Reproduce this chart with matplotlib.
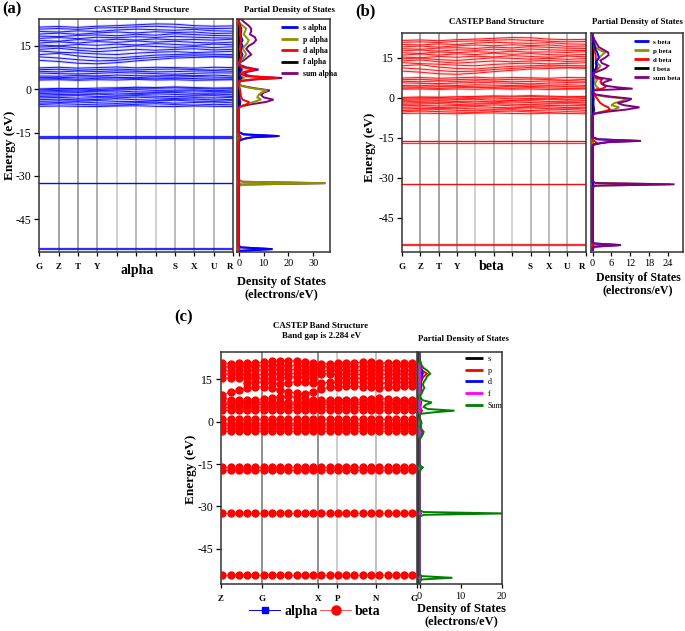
import numpy as np
import matplotlib.pyplot as plt
from matplotlib.lines import Line2D

plt.rcParams['font.family'] = ['Liberation Serif', 'DejaVu Serif']
plt.rcParams['axes.unicode_minus'] = False

nan = np.nan

# ---- k-paths ----
kpath_ab = ['G', 'Z', 'T', 'Y', '', '', '', 'S', 'X', 'U', 'R']
kpath_c = ['Z', 'G', 'X', 'P', 'N', 'G']
kpos_c = [-0.19, 4.77, 11.62, 13.92, 18.6, 23.6]   # in units of plotted k-points (panel c)

# ---- bands for panels a/b (11 k-points along G..R) ----
core_levels_ab = [-55.3, -55.0, -32.5, -32.3, -17.0, -16.4, -16.1]

valence_bands = [
    [-5.9, -5.8, -5.9, -6.0, -5.8, -5.7, -5.9, -6.0, -5.8, -5.9, -6.0],
    [-5.3, -5.0, -5.2, -5.4, -5.5, -5.2, -5.0, -5.3, -5.5, -5.2, -5.4],
    [-4.8, -4.6, -4.4, -4.7, -4.9, -4.6, -4.5, -4.8, -4.6, -4.4, -4.7],
    [-4.2, -4.0, -4.1, -3.9, -4.2, -4.3, -4.0, -3.8, -4.1, -4.2, -3.9],
    [-3.6, -3.4, -3.7, -3.5, -3.3, -3.6, -3.8, -3.5, -3.4, -3.7, -3.5],
    [-3.0, -2.8, -3.1, -2.9, -3.0, -2.7, -3.0, -3.2, -2.9, -3.0, -2.8],
    [-2.5, -2.3, -2.2, -2.5, -2.4, -2.2, -2.4, -2.6, -2.3, -2.2, -2.5],
    [-2.0, -1.8, -1.9, -1.7, -2.0, -1.9, -1.6, -1.8, -2.0, -1.7, -1.9],
    [-1.5, -1.3, -1.2, -1.4, -1.3, -1.5, -1.2, -1.1, -1.4, -1.3, -1.2],
    [-1.0, -0.8, -0.9, -0.7, -0.6, -0.9, -1.0, -0.7, -0.6, -0.8, -0.9],
    [-0.6, -0.4, -0.3, -0.5, -0.2, -0.1, -0.4, -0.3, -0.2, -0.5, -0.3],
    [-0.2, 0.0, 0.1, -0.1, 0.2, 0.4, 0.3, 0.5, 0.3, 0.1, 0.2],
    [0.1, 0.3, 0.2, 0.4, 0.5, 0.7, 0.6, 0.8, 0.6, 0.4, 0.5],
]

conduction_bands = [
    [3.2, 3.3, 3.1, 3.3, 3.2, 3.4, 3.2, 3.3, 3.1, 3.2, 3.3],
    [3.6, 3.7, 3.5, 3.8, 3.9, 3.7, 3.6, 3.8, 3.7, 3.5, 3.6],
    [4.1, 4.0, 4.2, 4.3, 4.1, 4.0, 4.3, 4.2, 4.4, 4.2, 4.1],
    [4.6, 4.5, 4.8, 4.6, 4.9, 4.7, 4.6, 4.8, 4.7, 4.9, 4.6],
    [5.6, 5.4, 5.3, 5.5, 5.8, 5.6, 5.4, 5.2, 5.5, 5.7, 5.6],
    [6.2, 6.0, 6.3, 6.1, 6.4, 6.2, 6.0, 6.1, 6.3, 6.4, 6.2],
    [6.8, 6.9, 6.6, 6.8, 7.0, 6.7, 6.9, 7.0, 6.8, 6.6, 6.9],
    [7.4, 7.6, 7.3, 7.5, 7.7, 7.4, 7.6, 7.5, 7.3, 7.6, 7.5],
]

upper_bands = [
    [10.0, 9.6, 9.0, 8.8, 9.2, 9.8, 10.3, 10.8, 11.0, 11.2, 11.0],
    [11.2, 10.8, 10.2, 9.8, 10.0, 10.6, 11.0, 11.4, 11.6, 11.4, 11.5],
    [12.0, 12.4, 11.5, 11.0, 10.8, 11.3, 11.8, 12.0, 12.2, 12.1, 12.0],
    [13.2, 12.8, 12.6, 12.2, 12.0, 12.5, 12.8, 13.0, 12.7, 12.9, 13.1],
    [13.8, 14.2, 13.5, 13.0, 13.4, 13.8, 13.5, 13.8, 14.0, 13.6, 13.8],
    [14.6, 14.9, 14.3, 14.0, 14.5, 15.0, 14.8, 14.5, 14.8, 14.4, 14.7],
    [15.3, 15.0, 15.5, 15.2, 15.6, 15.3, 15.8, 15.5, 15.2, 15.6, 15.4],
    [16.0, 16.4, 16.0, 16.5, 16.2, 16.7, 16.3, 16.6, 16.2, 16.0, 16.3],
    [16.9, 16.6, 17.2, 16.9, 17.3, 17.0, 17.4, 17.1, 17.2, 17.0, 17.3],
    [17.6, 17.9, 17.5, 18.0, 17.8, 18.2, 17.9, 18.3, 18.0, 17.8, 17.7],
    [18.4, 18.2, 18.6, 18.8, 18.5, 19.0, 18.7, 19.2, 18.9, 18.6, 18.5],
    [19.1, 19.4, 19.0, 19.5, 19.8, 19.5, 19.9, 19.6, 19.8, 19.3, 19.4],
    [20.0, 19.8, 20.2, 20.0, 20.5, 20.8, 20.6, 20.4, 20.7, 20.2, 20.1],
    [20.8, 21.0, 20.7, 21.2, 21.3, 21.6, 21.8, 21.5, 21.2, 21.0, 21.1],
    [21.5, 21.7, 21.4, 21.8, 22.0, 22.3, 22.6, 22.5, 22.0, 21.8, 21.9],
]

# ---- bands for panel c (24 plotted k-points) ----
c_flat_levels = [-54.4, -32.4, -17.1, -15.9, -3.3, -2.3, -1.3, -0.3, 0.8, 4.3, 5.2, 6.2, 7.1]
c_dispersive_bands = [
    [8.4, 7.8, 7.6, 7.6, 7.8, 8.0, 8.4, 8.8, 9.2, 8.6, 8.0, 7.8, 7.6, 7.6, 7.8, 7.8, 7.7, 7.9, 8.2, 8.4, 8.0, 7.8, 7.8, 7.8],
    [9.5, 10.4, 11.1, 11.8, 12.4, 12.4, 12.0, 11.4, 10.6, 10.0, 9.8, 10.6, 11.6, 12.2, 12.4, 12.5, 12.5, 12.4, 12.2, 11.8, 12.2, 12.4, 12.5, 12.5],
    [nan, nan, nan, 13.8, 14.0, 14.0, 13.6, 13.4, 13.8, 14.2, 14.0, 13.6, 13.8, 14.0, 14.0, 13.9, 14.0, 14.0, 13.8, 13.6, 13.8, 14.0, 14.0, 14.0],
    [15.4, 15.5, 15.6, 15.6, 15.5, 15.4, 15.3, 15.5, 15.8, 16.0, 15.8, 15.5, nan, nan, 15.6, 15.6, 15.5, 15.4, 15.5, 15.6, 15.6, 15.5, 15.4, 15.4],
    [16.8, 16.9, 17.0, 16.8, 16.7, 16.8, 17.0, 17.2, 17.0, 17.2, 17.3, 17.0, 16.8, 17.0, 17.0, 16.9, 16.8, 16.8, 16.9, 17.0, 16.8, 16.8, 16.9, 16.9],
    [18.2, 18.1, 18.3, 18.2, 18.4, 18.3, 18.5, 18.6, 18.4, 18.6, 18.4, 18.2, 18.0, 18.2, 18.3, 18.2, 18.1, 18.2, 18.3, 18.4, 18.2, 18.1, 18.2, 18.2],
    [19.5, 19.4, 19.6, 19.6, 19.7, 19.8, 20.0, 20.1, 19.9, 20.0, 19.8, 19.5, 19.3, 19.5, 19.6, 19.6, 19.5, 19.6, 19.7, 19.6, 19.5, 19.6, 19.6, 19.6],
    [20.7, 20.6, 20.8, 20.9, 20.9, 21.0, 21.4, 21.6, 21.6, 21.4, 21.2, 20.9, 20.6, 20.4, 20.8, 20.9, 20.9, 21.0, 21.0, 20.9, 20.8, 20.9, 20.9, 20.9],
]

# ---- partial DOS (shared energy grid) ----
dos_energy = [-57.0, -55.9, -55.3, -54.7, -54.0,
              -33.6, -33.0, -32.5, -32.0, -31.4,
              -18.4, -17.6, -17.0, -16.6, -16.2, -15.6, -14.8,
              -6.8, -6.0, -5.2, -4.4, -3.6, -2.8, -2.0, -1.2, -0.4, 0.4, 1.2, 2.0,
              2.8, 3.4, 3.9, 4.5, 5.2, 6.0, 6.8, 7.6, 8.4,
              9.2, 10.0, 11.0, 12.0, 13.0, 14.0, 15.0, 16.0, 17.0, 18.0, 19.0, 20.0, 21.0, 22.0, 23.0, 25.0]

a_s = [0, 0.5, 13.5, 0.7, 0,
       0, 0, 0.3, 0, 0,
       0, 0.4, 2.8, 5.5, 15.8, 1.8, 0,
       0, 0.1, 0.5, 0.6, 0.4, 0.3, 0.4, 0.4, 0.6, 0.2, 0, 0,
       0.1, 0.5, 1, 0.5, 0.3, 0.5, 1, 0.5, 0.1,
       0.1, 0.5, 1, 1.5, 1, 0.8, 1.5, 1, 1.5, 1, 0.8, 1, 1, 0.5, 0.1, 0]
a_p = [0, 0, 0.3, 0, 0,
       0, 1.0, 34.8, 1.5, 0,
       0, 0, 0.1, 0.2, 0.3, 0.1, 0,
       0, 0.3, 3, 6, 9, 7.5, 8, 9, 11.5, 5, 0.8, 0.1,
       0.1, 1, 2, 1, 0.5, 1, 1.5, 0.5, 0.1,
       0.2, 1, 2, 3, 2.5, 1.5, 2.5, 3.5, 4, 3, 2, 2.5, 3, 1.5, 0.3, 0]
a_d = [0, 0, 0.2, 0, 0,
       0, 0, 0.2, 0, 0,
       0, 0.1, 0.5, 0.8, 0.5, 0.1, 0,
       0, 0.5, 3.5, 4, 1.5, 1.0, 0.8, 0.7, 0.5, 0.3, 0.1, 0,
       0.3, 5, 16, 3, 1, 2, 6.4, 1.5, 0.2,
       0.1, 0.5, 0.8, 1, 0.7, 0.5, 0.6, 0.7, 0.8, 0.7, 0.5, 0.6, 0.6, 0.3, 0.1, 0]
a_sum = [0, 0.5, 13.7, 0.8, 0,
         0, 1.0, 35, 1.5, 0,
         0, 0.5, 3.0, 6.0, 16.5, 2.0, 0,
         0, 0.5, 5, 11, 14, 10, 9, 10, 12.5, 6, 1, 0.2,
         0.5, 7, 17.5, 5, 2, 3.5, 8, 3, 0.5,
         0.3, 2, 3.5, 5, 4, 3, 4, 6, 7, 6.5, 4.5, 5, 5, 4, 2.5, 0]

b_s = [0, 0.5, 9.0, 0.5, 0,
       0, 0, 0.3, 0, 0,
       0, 0.3, 2.5, 5, 14.5, 1.5, 0,
       0, 0.1, 0.4, 0.5, 0.4, 0.3, 0.3, 0.3, 0.4, 0.2, 0, 0,
       0.1, 0.3, 0.3, 0.2, 0.2, 0.3, 0.3, 0.2, 0.1,
       0.1, 0.5, 1, 1.2, 1, 1.5, 2, 1.8, 1.5, 1, 0.8, 0.5, 0.3, 0.2, 0.1, 0]
b_p = [0, 0, 0.2, 0, 0,
       0, 1.0, 25.0, 1.0, 0,
       0, 0, 0.1, 0.2, 0.3, 0.1, 0,
       0, 0.3, 3, 7, 8.5, 6, 7, 9.5, 10.9, 4, 0.5, 0.1,
       0.1, 2, 1.5, 1, 0.8, 1, 1.5, 0.5, 0.1,
       0.2, 1, 2, 2.5, 1.5, 1.2, 2, 3, 4, 2, 1, 0.8, 0.5, 0.3, 0.1, 0]
b_d = [0, 0, 0.2, 0, 0,
       0, 0, 0.2, 0, 0,
       0, 0.2, 1.5, 1.0, 0.5, 0.1, 0,
       0, 0.5, 4, 5.5, 5, 3.5, 2.5, 2, 1.5, 1, 0.3, 0,
       0.3, 3, 4, 4.3, 3, 2.5, 3, 1, 0.3,
       0.1, 0.8, 1.5, 1.5, 1.2, 1, 1, 1, 0.8, 0.6, 0.5, 0.4, 0.3, 0.2, 0.1, 0]
b_sum = [0, 0.5, 9.1, 0.5, 0,
         0, 1.0, 26.2, 1.0, 0,
         0, 0.5, 3.0, 6.0, 15.5, 2.0, 0,
         0, 0.5, 5, 11, 15, 10, 8, 11, 12.5, 6, 1, 0.2,
         0.5, 12.8, 8, 4, 3, 4, 6.2, 2, 0.5,
         0.3, 2, 4, 5, 3, 2.5, 4, 5.1, 5, 3.5, 2, 1.5, 1, 0.5, 0.2, 0]

c_s = [0, 0, 0.2, 0, 0,
       0, 0, 0.2, 0, 0,
       0, 0, 0.1, 0.1, 0.2, 0, 0,
       0, 0, 0.1, 0.2, 0.2, 0.1, 0.1, 0.1, 0.2, 0.1, 0, 0,
       0, 0.1, 0.2, 0.1, 0.1, 0.1, 0.1, 0.1, 0,
       0, 0.1, 0.1, 0.2, 0.1, 0.1, 0.2, 0.4, 0.6, 0.4, 0.2, 0.1, 0, 0, 0, 0]
c_p = [0, 0, 0.2, 0, 0,
       0, 0, 0.3, 0, 0,
       0, 0, 0.1, 0.2, 0.3, 0.1, 0,
       0, 0.05, 0.2, 0.3, 0.3, 0.2, 0.1, 0.1, 0.2, 0.1, 0, 0,
       0.1, 0.4, 0.6, 0.3, 0.2, 0.3, 0.4, 0.2, 0.1,
       0.1, 0.2, 0.3, 0.4, 0.3, 0.4, 0.6, 1.0, 1.8, 0.8, 0.4, 0.2, 0.1, 0, 0, 0]
c_d = [0, 0, 0.3, 0, 0,
       0, 0, 0.3, 0, 0,
       0, 0, 0.1, 0.3, 0.4, 0.1, 0,
       0, 0.1, 0.4, 0.7, 0.9, 0.4, 0.3, 0.2, 0.4, 0.2, 0.1, 0,
       0.1, 0.2, 0.3, 0.2, 0.1, 0.2, 0.3, 0.1, 0.1,
       0.1, 0.2, 0.3, 0.4, 0.3, 0.3, 0.4, 0.5, 0.8, 0.6, 0.3, 0.2, 0.1, 0, 0, 0]
c_sum = [0, 0.5, 8, 0.5, 0,
         0, 1.0, 21, 1.0, 0,
         0, 0.1, 0.3, 0.5, 0.8, 0.2, 0,
         0, 0.1, 0.5, 0.8, 1.0, 0.5, 0.3, 0.3, 0.5, 0.3, 0.1, 0,
         0.3, 4, 8.5, 2, 1, 1.5, 3, 0.8, 0.3,
         0.2, 0.5, 0.8, 1.2, 0.8, 1.0, 1.5, 1.8, 2.6, 2.0, 1.0, 0.5, 0.3, 0.1, 0, 0]
f_zero = [0.0] * len(dos_energy)

# ---- figure, placed in pixel coordinates ----
W, H = 685, 631
fig = plt.figure(figsize=(W / 100, H / 100), dpi=100)


def px_axes(left, top, right, bottom):
    return fig.add_axes([left / W, 1 - bottom / H, (right - left) / W, (bottom - top) / H])


def px_text(x, y, s, **kw):
    kw.setdefault('ha', 'center')
    kw.setdefault('va', 'center')
    fig.text(x / W, 1 - y / H, s, **kw)


def style_frame(ax):
    for sp in ax.spines.values():
        sp.set_color('#333333')
        sp.set_linewidth(1.1)


def band_panel(ax, ylim, xtick_pos, xtick_lab, vcolors):
    style_frame(ax)
    ax.set_ylim(*ylim)
    ax.set_yticks([15, 0, -15, -30, -45])
    ax.tick_params(axis='y', direction='out', length=3.5, width=0.9, labelsize=8.5, pad=2)
    ax.set_xticks(xtick_pos)
    ax.set_xticklabels(xtick_lab, fontsize=6.5, fontweight='bold')
    ax.get_xticklabels()[-1].set_horizontalalignment('right')
    ax.tick_params(axis='x', direction='out', length=3, width=0.9, pad=5)
    for xp, vc in zip(xtick_pos[1:-1], vcolors):
        ax.axvline(xp, color=vc, lw=1.1, zorder=0)


def dos_panel(ax, ylim, xlim, xticks, series, order, labels, legend_xy, fs, bold):
    style_frame(ax)
    ax.set_ylim(*ylim)
    ax.set_xlim(*xlim)
    ax.set_yticks([])
    ax.set_xticks(xticks)
    ax.tick_params(axis='x', direction='out', length=3, width=0.9, labelsize=7.5, pad=2)
    handles = {}
    for key in order:
        vals, col = series[key]
        handles[key], = ax.plot(vals, dos_energy, color=col, lw=1.4, solid_joinstyle='miter')
    keys = ['s', 'p', 'd', 'f', 'sum']
    leg = fig.legend([handles[k] for k in keys], labels, loc='upper left',
                     bbox_to_anchor=(legend_xy[0] / W, 1 - legend_xy[1] / H),
                     frameon=False, fontsize=fs, handlelength=2.2, handletextpad=0.6,
                     labelspacing=0.45, borderpad=0, borderaxespad=0)
    for t in leg.get_texts():
        t.set_fontweight('bold' if bold else 'normal')
    for ln in leg.get_lines():
        ln.set_linewidth(2.0)
        ln.set_solid_capstyle('butt')


k_ab = np.arange(len(kpath_ab))
vcol_ab = ['#8a8a8a', '#8a8a8a', '#9a9a9a', '#c4c4c4', '#a8a8a8', '#c4c4c4', '#a8a8a8', '#a8a8a8', '#a8a8a8']

# ================= panel (a) =================
ax_a = px_axes(39.3, 19, 233, 251.7)
ax_a.set_xlim(k_ab[0], k_ab[-1])
band_panel(ax_a, (-56.2, 24.3), k_ab, kpath_ab, vcol_ab)
for lvl in core_levels_ab:
    ax_a.plot(k_ab, [lvl] * len(k_ab), color='#0000ff', lw=0.9, alpha=0.8)
for band in valence_bands + conduction_bands + upper_bands:
    ax_a.plot(k_ab, band, color='#5a5aff', lw=2.0, alpha=0.25)
    ax_a.plot(k_ab, band, color='#0000ff', lw=0.7, alpha=0.9)

ax_ad = px_axes(237.3, 19, 330, 251.7)
dos_panel(ax_ad, (-56.2, 24.3), (-0.6, 36.8), [0, 10, 20, 30],
          {'s': (a_s, '#0000ff'), 'p': (a_p, '#8f8f00'), 'd': (a_d, '#ff0000'),
           'f': (f_zero, '#000000'), 'sum': (a_sum, '#800080')},
          ['sum', 'f', 'p', 's', 'd'],
          ['s alpha', 'p alpha', 'd alpha', 'f alpha', 'sum alpha'], (281, 24), 5.6, True)

px_text(12, 9, '(a)', fontsize=12, fontweight='bold')
px_text(142, 10, 'CASTEP Band Structure', fontsize=6.4, fontweight='bold')
px_text(289, 10, 'Partial Density of States', fontsize=6.4, fontweight='bold')
px_text(10, 145, 'Energy (eV)', fontsize=9.5, fontweight='bold', rotation=90)
px_text(137, 270, 'alpha', fontsize=10, fontweight='bold')
px_text(281, 288, 'Density of States\n(electrons/eV)', fontsize=9, fontweight='bold', linespacing=1.05)

# ================= panel (b) =================
ax_b = px_axes(401.7, 33, 585.7, 252)
ax_b.set_xlim(k_ab[0], k_ab[-1])
band_panel(ax_b, (-57.9, 24.3), k_ab, kpath_ab, vcol_ab)
for lvl in core_levels_ab:
    ax_b.plot(k_ab, [lvl] * len(k_ab), color='#ff0000', lw=0.9, alpha=0.8)
for band in valence_bands + conduction_bands + upper_bands:
    ax_b.plot(k_ab, band, color='#ff6060', lw=2.0, alpha=0.25)
    ax_b.plot(k_ab, band, color='#ff0000', lw=0.7, alpha=0.9)

ax_bd = px_axes(590.7, 33, 683, 252)
dos_panel(ax_bd, (-57.9, 24.3), (-0.6, 28.9), [0, 6, 12, 18, 24],
          {'s': (b_s, '#0000ff'), 'p': (b_p, '#8f8f00'), 'd': (b_d, '#ff0000'),
           'f': (f_zero, '#000000'), 'sum': (b_sum, '#800080')},
          ['f', 'p', 'd', 's', 'sum'],
          ['s beta', 'p beta', 'd beta', 'f beta', 'sum beta'], (634, 39), 5.0, True)

px_text(365, 11, '(b)', fontsize=12, fontweight='bold')
px_text(497, 22, 'CASTEP Band Structure', fontsize=6.4, fontweight='bold')
px_text(637, 22, 'Partial Density of States', fontsize=6.4, fontweight='bold')
px_text(370, 147, 'Energy (eV)', fontsize=9.5, fontweight='bold', rotation=90)
px_text(492, 266, 'beta', fontsize=10, fontweight='bold')
px_text(638, 284, 'Density of States\n(electrons/eV)', fontsize=8.6, fontweight='bold', linespacing=1.05)

# ================= panel (c) =================
k_c = np.arange(24)
ax_c = px_axes(220.7, 351.7, 417.3, 584)
ax_c.set_xlim(kpos_c[0], kpos_c[-1])
band_panel(ax_c, (-57.5, 24.8), kpos_c, kpath_c, ['#707070', '#707070', '#c0c0c0', '#b0b0b0'])
c_bands = [[lvl] * len(k_c) for lvl in c_flat_levels] + c_dispersive_bands
for band in c_bands:
    ax_c.plot(k_c, band, color='#0000ff', lw=0.5, marker='s', ms=3.0, zorder=2)
for band in c_bands:
    ax_c.plot(k_c, band, color='#ff6a6a', lw=0.6, marker='o', ms=5.0,
              mfc='#ff0000', mec='#ff0000', zorder=3)

ax_cd = px_axes(418.3, 351.7, 501.7, 584)
dos_panel(ax_cd, (-57.5, 24.8), (-0.3, 20), [0, 10, 20],
          {'s': (c_s, '#000000'), 'p': (c_p, '#ff0000'), 'd': (c_d, '#0000ff'),
           'f': (f_zero, '#ff00ff'), 'sum': (c_sum, '#008000')},
          ['s', 'p', 'd', 'f', 'sum'],
          ['s', 'p', 'd', 'f', 'Sum'], (465, 355), 5.8, False)
ax_cd.tick_params(axis='x', pad=3)

px_text(184, 317, '(c)', fontsize=12, fontweight='bold')
px_text(321, 331, 'CASTEP Band Structure\nBand gap is 2.284 eV', fontsize=6.4, fontweight='bold',
        linespacing=1.2)
px_text(463, 339, 'Partial Density of States', fontsize=6.4, fontweight='bold')
px_text(191, 469, 'Energy (eV)', fontsize=9.5, fontweight='bold', rotation=90)
px_text(461, 615, 'Density of States\n(electrons/eV)', fontsize=9, fontweight='bold', linespacing=1.05)

spin_handles = [Line2D([], [], color='#0000ff', lw=0.7, marker='s', ms=4.5),
                Line2D([], [], color='#ff5050', lw=0.7, marker='o', ms=6.5, mfc='#ff0000', mec='#ff0000')]
fig.legend(spin_handles, ['alpha', 'beta'], loc='center', ncol=2,
           bbox_to_anchor=(315 / W, 1 - 611.7 / H), frameon=False,
           prop={'size': 10, 'weight': 'bold'}, handlelength=2.2, handletextpad=0.3,
           columnspacing=0.2)

fig.savefig('out.png', dpi=100)
